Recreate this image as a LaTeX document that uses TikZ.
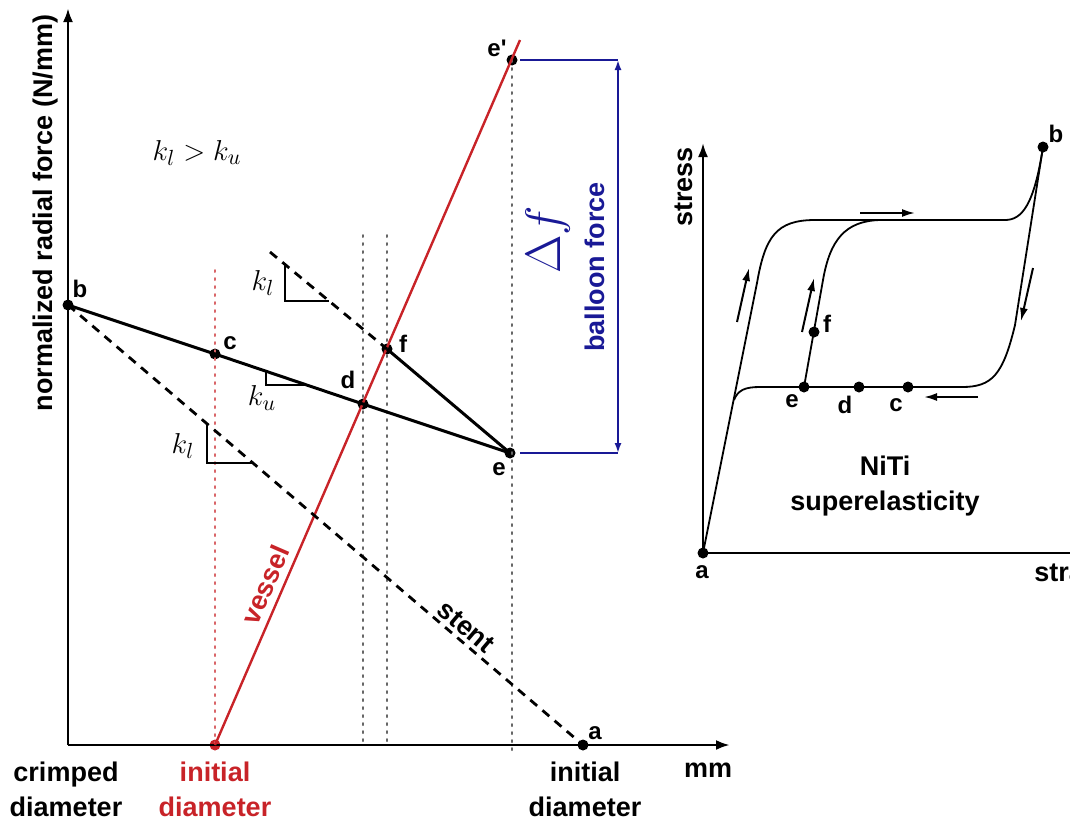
\documentclass[tikz,border=0pt]{standalone}
\usepackage{fontspec}
\setmainfont{Liberation Sans}
\usetikzlibrary{arrows.meta, positioning}
\definecolor{vesselred}{RGB}{200,35,40}
\definecolor{forceblue}{RGB}{25,25,150}

\begin{document}
\begin{tikzpicture}[x=0.5pt, y=-0.5pt,
  every node/.style={font=\bfseries\fontsize{13.5}{17.5}\selectfont, inner sep=1pt},
  axis/.style={line width=1.4pt, -{Latex[length=7pt,width=5pt]}},
  pnt/.style={circle, fill=black, inner sep=0pt, minimum size=5.5pt},
  lbl/.style={font=\bfseries\fontsize{12}{14}\selectfont},
  mathlbl/.style={font=\fontsize{15}{18}\selectfont},
  guide/.style={line width=1pt, dash pattern=on 1pt off 3pt, black!60, line cap=round},
  curve/.style={line width=1.5pt},
  stentline/.style={line width=1.4pt, dash pattern=on 4.5pt off 3.5pt},
  vessel/.style={line width=1.2pt, vesselred},
  slope/.style={line width=0.7pt},
  dimline/.style={line width=0.9pt, forceblue},
  ssc/.style={line width=0.9pt},
  sarrow/.style={line width=1pt, -{Latex[length=6.5pt,width=4pt]}}]
\useasboundingbox (0,0) rectangle (1070,825);

% radial force plot
\coordinate (O) at (68,745);
\coordinate (ytip) at (68,8);
\coordinate (xtip) at (730,745);
\coordinate (vtop) at (520,40);
\coordinate (dash0) at (270,252);
\node[pnt] (b) at (68,305) {};
\node[pnt] (c) at (215,354) {};
\node[pnt] (d) at (363,404) {};
\node[pnt] (e) at (510,453) {};
\node[pnt] (f) at (387,349) {};
\node[pnt] (ep) at (512,60) {};
\node[pnt] (a) at (583,745) {};
\node[pnt, fill=vesselred] (v0) at (215,745) {};

\draw[guide, draw=vesselred!70] (215,270) -- (v0.center);
\foreach \x in {363,387} {
  \draw[guide] (\x,235) -- (\x,745);
}
\draw[guide] (ep.center) -- (512,752);

\draw[axis] (O) -- (ytip);
\draw[axis] (O) -- (xtip);

\draw[vessel] (v0.center) -- (vtop);
\draw[stentline] (b.center) -- (a.center);
\draw[stentline] (dash0) -- (f.center);
\draw[curve] (b.center) -- (c.center) -- (d.center) -- (e.center);
\draw[curve] (f.center) -- (e.center);

\draw[slope] (285,265) |- (329,301);
\draw[slope] (266,371) |- (307,385);
\draw[slope] (207,424) |- (253,463);

\coordinate (ep1) at (520,60);
\coordinate (e1) at (520,453);
\coordinate (dimtop) at (618,60);
\coordinate (dimbot) at (618,453);
\draw[dimline] (ep1) -- (dimtop);
\draw[dimline] (e1) -- (dimbot);
\draw[dimline, {Latex[length=5pt,width=3.5pt]}-{Latex[length=5pt,width=3.5pt]}] (dimtop) -- (dimbot);

\node[lbl] (lb) at (80,289) {b};
\node[lbl] (lc) at (230,343) {c};
\node[lbl] (ld) at (348,380) {d};
\node[lbl] (le) at (499,469) {e};
\node[lbl] (lep) at (497,48) {e\textquotesingle};
\node[lbl] (lf) at (403,344) {f};
\node[lbl] (la) at (595,733) {a};

\node[mathlbl] (kk) at (197,153) {$k_l > k_u$};
\node[mathlbl] (kl1) at (263,283) {$k_l$};
\node[mathlbl] (ku) at (262,398) {$k_u$};
\node[mathlbl] (kl2) at (183,446) {$k_l$};

\node[rotate=90] (ylab) at (46,213) {normalized radial force (N/mm)};
\node[anchor=north, align=center] (crimp) at (66,760) {crimped\\diameter};
\node[anchor=north, align=center, text=vesselred] (init1) at (215,760) {initial\\diameter};
\node[anchor=north, align=center] (init2) at (585,760) {initial\\diameter};
\node (mm) at (708,770) {mm};
\node[rotate=66.6, text=vesselred] (vlab) at (265,585) {vessel};
\node[rotate=-40.5] (slab) at (466,627) {stent};
\node[rotate=90, text=forceblue, font=\fontsize{27}{30}\selectfont] (df) at (548,240) {$\Delta f$};
\node[rotate=90, text=forceblue] (bf) at (595,267) {balloon force};

% NiTi plot
\coordinate (O2) at (703,553);
\node[pnt] (sa) at (703,553) {};
\node[pnt] (sb) at (1043,147) {};
\node[pnt] (se) at (804,387) {};
\node[pnt] (sd) at (859,387) {};
\node[pnt] (sc) at (908,387) {};
\node[pnt] (sf) at (814,332) {};

\draw[axis, line width=1.2pt] (O2) -- (703,143);
\draw[line width=1.2pt] (O2) -- (1080,553);

\draw[ssc] (sa.center) -- (757,283) .. controls (765,237) and (776,220) .. (815,220) -- (1005,220)
  .. controls (1022,220) and (1034,205) .. (sb.center);
\draw[ssc] (sb.center) -- (1015,325) .. controls (1003,375) and (992,387) .. (962,387) -- (760,387)
  .. controls (745,387) and (738,390) .. (734,400);
\draw[ssc] (se.center) -- (823,280) .. controls (830,240) and (845,221) .. (880,220);

\draw[sarrow] (737,322) -- (749,268);
\draw[sarrow] (802,332) -- (814,278);
\draw[sarrow] (860,213) -- (915,213);
\draw[sarrow] (1033,268) -- (1021,321);
\draw[sarrow] (978,397) -- (924,397);

\node[lbl] (lsa) at (702,572) {a};
\node[lbl] (lsb) at (1056,134) {b};
\node[lbl] (lse) at (792,401) {e};
\node[lbl] (lsd) at (845,405) {d};
\node[lbl] (lsc) at (896,405) {c};
\node[lbl] (lsf) at (827,324) {f};

\node[rotate=90] (stress) at (684,187) {stress};
\node[anchor=base west] (strain) at (1032,581) {strain};
\node[align=center] (niti) at (885,486) {NiTi\\superelasticity};
\end{tikzpicture}
\end{document}
